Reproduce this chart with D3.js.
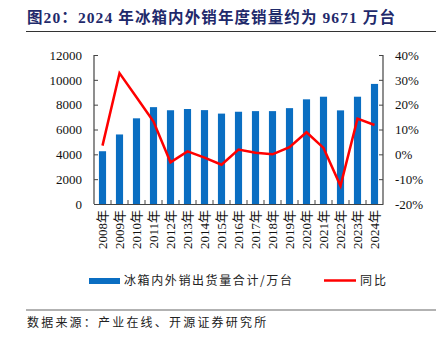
<!DOCTYPE html>
<html><head><meta charset="utf-8">
<script src="https://cdn.jsdelivr.net/npm/d3@7"></script>
<style>body{margin:0;background:#fff}svg{display:block}</style>
</head><body><svg id="c" width="441" height="338"></svg>
<script>
const years = ["2008","2009","2010","2011","2012","2013","2014","2015","2016","2017","2018","2019","2020","2021","2022","2023","2024"];
const sales = [4250,5600,6900,7800,7550,7650,7560,7280,7430,7480,7480,7720,8430,8640,7540,8640,9671];
const yoy = [3.5,32.7,23.0,13.2,-3.2,1.2,-1.3,-4.2,1.9,0.6,0.0,2.9,8.9,2.6,-12.7,14.4,11.8];
const leftTicks = [0,2000,4000,6000,8000,10000,12000];
const rightTicks = [-20,-10,0,10,20,30,40];
const title = "图20：2024 年冰箱内外销年度销量约为 9671 万台";
const source = "数据来源：产业在线、开源证券研究所";
const legendBar = "冰箱内外销出货量合计/万台";
const legendLine = "同比";

const svg = d3.select("#c");
const L=94, R=383, T=55, B=204;
const x = d3.scaleBand().domain(years).range([L,R]).paddingInner(0.58).paddingOuter(0.29);
const xb = d3.scaleBand().domain(years).range([L,R]);
const yL = d3.scaleLinear().domain([0,12000]).range([B,T]);
const yR = d3.scaleLinear().domain([-20,40]).range([B,T]);
const serif = "'Liberation Serif','Noto Sans CJK SC',serif";
const cjk = "'Noto Sans CJK SC','Noto Sans',sans-serif";

// title
svg.append("text").attr("x",27).attr("y",23).attr("font-family",serif).attr("font-weight","bold")
  .attr("font-size",15.5).attr("letter-spacing",1.1).attr("fill","#1f2a6b").text(title);
svg.append("line").attr("x1",26).attr("x2",436).attr("y1",31.5).attr("y2",31.5).attr("stroke","#333").attr("stroke-width",1);

// bars
svg.append("g").selectAll("rect").data(years).join("rect")
  .attr("x",d=>x(d)).attr("width",x.bandwidth())
  .attr("y",(d,i)=>yL(sales[i])).attr("height",(d,i)=>B-yL(sales[i]))
  .attr("fill","#0a6ec2");

// axes
const gl = svg.append("g").attr("transform",`translate(${L},0)`)
  .call(d3.axisLeft(yL).tickValues(leftTicks).tickSize(-4).tickPadding(12).tickFormat(d3.format("d")));
const gr = svg.append("g").attr("transform",`translate(${R},0)`)
  .call(d3.axisRight(yR).tickValues(rightTicks).tickSize(-4).tickPadding(12).tickFormat(d=>d+"%"));
const gb = svg.append("g").attr("transform",`translate(0,${B})`)
  .call(d3.axisBottom(xb).tickSize(0).tickPadding(4).tickFormat(d=>d+"年"));
[gl,gr,gb].forEach(g=>{
  g.select(".domain").attr("stroke","#444").attr("stroke-width",1.2);
  g.selectAll(".tick line").attr("stroke","#444");
  g.selectAll("text").attr("font-family",serif).attr("font-size",13).attr("fill","#111");
});
gl.select(".domain").attr("d",`M-0,${T}H0V${B}H-0`);
gr.select(".domain").attr("d",`M0,${T}H0V${B}H0`);
gb.selectAll(".tick text").attr("transform","rotate(-90)").attr("text-anchor","end")
  .attr("x",-6).attr("y",0).attr("dy","0.35em");
// x ticks at band boundaries pointing up
svg.append("g").selectAll("line").data(years.slice(1)).join("line")
  .attr("x1",d=>xb(d)).attr("x2",d=>xb(d)).attr("y1",B).attr("y2",B-4).attr("stroke","#444");

// line
const line = d3.line().x((d,i)=>x(years[i])+x.bandwidth()/2).y(d=>yR(d));
svg.append("path").datum(yoy).attr("d",line).attr("fill","none").attr("stroke","#ff0000").attr("stroke-width",2.5).attr("stroke-linejoin","miter");

// legend
svg.append("rect").attr("x",89).attr("y",278).attr("width",31).attr("height",6).attr("fill","#0a6ec2");
svg.append("text").attr("x",124).attr("y",285).attr("font-family",cjk).attr("font-size",12).attr("letter-spacing",1.6).attr("fill","#222").text(legendBar);
svg.append("line").attr("x1",324).attr("x2",356).attr("y1",280.5).attr("y2",280.5).attr("stroke","#ff0000").attr("stroke-width",2.5);
svg.append("text").attr("x",360).attr("y",285).attr("font-family",cjk).attr("font-size",12).attr("letter-spacing",2).attr("fill","#222").text(legendLine);

// source
svg.append("line").attr("x1",26).attr("x2",436).attr("y1",310).attr("y2",310).attr("stroke","#999").attr("stroke-width",1.5);
svg.append("text").attr("x",27).attr("y",327).attr("font-family",cjk).attr("font-size",12).attr("letter-spacing",2.2).attr("fill","#222").text(source);
</script></body></html>
